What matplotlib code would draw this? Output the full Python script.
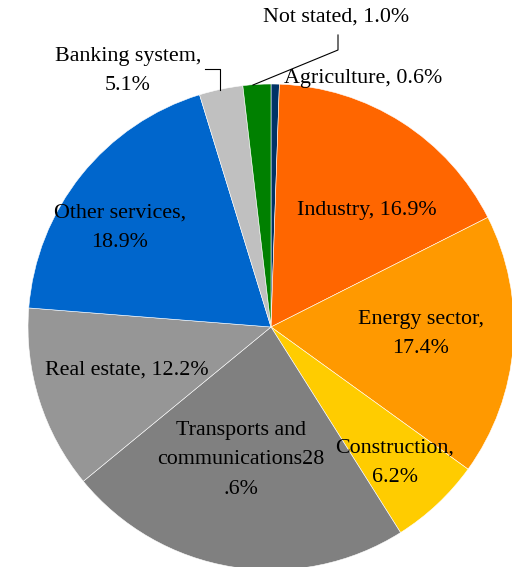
import matplotlib
matplotlib.use("Agg")
import matplotlib.pyplot as plt

sectors = ["Agriculture", "Industry", "Energy sector", "Construction",
           "Transports and communications", "Real estate", "Other services",
           "Banking system", "Not stated"]
shares = [0.55, 17.0, 17.4, 6.1, 23.0, 12.2, 19.0, 2.9, 1.85]
colors = ["#003366", "#FF6600", "#FF9900", "#FFCC00", "#808080",
          "#969696", "#0066CC", "#C0C0C0", "#008000"]

# label texts as printed on the chart
label_texts = ["Agriculture, 0.6%", "Industry, 16.9%", "Energy sector,\n17.4%",
               "Construction,\n6.2%", "Transports and\ncommunications28\n.6%",
               "Real estate, 12.2%", "Other services,\n18.9%",
               "Banking system,\n5.1%", "Not stated, 1.0%"]

W, H = 512, 567
fig = plt.figure(figsize=(W / 100, H / 100), dpi=100)
ax = fig.add_axes([0, 0, 1, 1])

cx, cy, r = 271, H - 327, 243
ax.pie(shares, colors=colors, startangle=90, counterclock=False,
       center=(cx, cy), radius=r, frame=True,
       wedgeprops=dict(edgecolor="white", linewidth=0.4))
ax.set_xlim(0, W)
ax.set_ylim(0, H)
ax.axis("off")

# label positions in pixels (x, y from top)
pos = [(363, 79), (367, 210), (421, 334), (395, 463), (241, 460),
       (127, 370), (120, 228), (128, 71), (336, 17)]

for txt, (px, py) in zip(label_texts, pos):
    ax.text(px, H - py, txt, ha="center", va="center",
            family="Liberation Serif", fontsize=15.8, color="black",
            multialignment="center", linespacing=1.72)

# leader lines
ax.plot([205, 220, 220], [H - 69, H - 69, H - 90], color="black", lw=0.8)
ax.plot([338, 338, 253], [H - 35, H - 50, H - 85], color="black", lw=0.8)

fig.savefig("out.png", dpi=100)
